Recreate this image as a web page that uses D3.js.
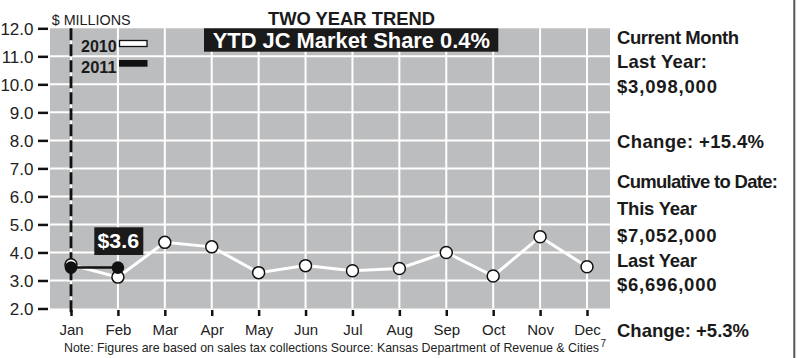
<!DOCTYPE html>
<html>
<head>
<meta charset="utf-8">
<script src="https://cdn.jsdelivr.net/npm/d3@7"></script>
<style>
  html, body { margin: 0; padding: 0; background: #fff; }
  svg { display: block; }
  text { font-family: "Liberation Sans", Arial, sans-serif; }
</style>
</head>
<body>
<div id="chart"></div>
<script>
const months = ["Jan","Feb","Mar","Apr","May","Jun","Jul","Aug","Sep","Oct","Nov","Dec"];
const sales2010 = [3.56, 3.12, 4.36, 4.2, 3.28, 3.53, 3.35, 3.43, 4.0, 3.16, 4.56, 3.49];
const sales2011 = [3.46, 3.46];
const yTicks = [2, 3, 4, 5, 6, 7, 8, 9, 10, 11, 12];
const seriesNames = ["2010", "2011"];
const chartTitle = "TWO YEAR TREND";
const bannerText = "YTD JC Market Share 0.4%";
const unitLabel = "$ MILLIONS";
const calloutText = "$3.6";
const noteText = "Note: Figures are based on sales tax collections  Source: Kansas Department of Revenue & Cities";
const noteMark = "7";
const sideLines = ["Current Month", "Last Year:", "$3,098,000", "Change: +15.4%",
  "Cumulative to Date:", "This Year", "$7,052,000", "Last Year", "$6,696,000", "Change: +5.3%"];

const W = 799, H = 358;
const plot = { left: 50, right: 610, top: 28.3, bottom: 308.5 };

const svg = d3.select("#chart").append("svg").attr("width", W).attr("height", H);
svg.append("rect").attr("width", W).attr("height", H).attr("fill", "#fff");

const x = d3.scalePoint().domain(months).range([71, 587]);
const y = d3.scaleLinear().domain([2, 12]).range([plot.bottom, plot.top]);

// plot background
svg.append("rect")
  .attr("x", plot.left).attr("y", plot.top)
  .attr("width", plot.right - plot.left).attr("height", plot.bottom - plot.top)
  .attr("fill", "#bcbdbf");

// gridlines
svg.append("g").selectAll("line").data(yTicks.filter(d => d > 2 && d < 12)).join("line")
  .attr("x1", plot.left).attr("x2", plot.right)
  .attr("y1", d => y(d)).attr("y2", d => y(d))
  .attr("stroke", "#fff").attr("stroke-width", 2);
svg.append("g").selectAll("line").data(months).join("line")
  .attr("x1", d => x(d)).attr("x2", d => x(d))
  .attr("y1", plot.top).attr("y2", plot.bottom)
  .attr("stroke", "#fff").attr("stroke-width", 2);

// y axis
const yAxis = svg.append("g").attr("transform", `translate(48,0)`)
  .call(d3.axisLeft(y).tickValues(yTicks).tickFormat(d3.format(".1f")).tickSize(10).tickPadding(4.5));
yAxis.select(".domain").remove();
yAxis.selectAll(".tick line").attr("stroke", "#111").attr("stroke-width", 2.5);
yAxis.selectAll(".tick text").attr("fill", "#222").style("font-size", "17px")
  .style("font-family", "'Liberation Sans', Arial, sans-serif").attr("dy", "0.36em");

// x axis
const xAxis = svg.append("g").attr("transform", `translate(0,310)`)
  .call(d3.axisBottom(x).tickSize(6).tickPadding(0));
xAxis.select(".domain").remove();
xAxis.selectAll(".tick line").attr("stroke", "#111").attr("stroke-width", 2.5);
xAxis.selectAll(".tick text").attr("fill", "#222").style("font-size", "15px")
  .style("font-family", "'Liberation Sans', Arial, sans-serif")
  .attr("y", 25).attr("dy", 0);

// dashed current line at Jan
svg.append("line")
  .attr("x1", x("Jan")).attr("x2", x("Jan"))
  .attr("y1", plot.top).attr("y2", 316)
  .attr("stroke", "#111").attr("stroke-width", 2.8)
  .attr("stroke-dasharray", "12,4");

// 2010 series
const line = d3.line().x((d, i) => x(months[i])).y(d => y(d));
svg.append("path").datum(sales2010).attr("d", line)
  .attr("fill", "none").attr("stroke", "#fff").attr("stroke-width", 3);
svg.append("g").selectAll("circle").data(sales2010).join("circle")
  .attr("cx", (d, i) => x(months[i])).attr("cy", d => y(d)).attr("r", 6)
  .attr("fill", "#fff").attr("stroke", "#111").attr("stroke-width", 1.5);

// 2011 series
svg.append("path").datum(sales2011).attr("d", line)
  .attr("fill", "none").attr("stroke", "#111").attr("stroke-width", 2.5);
svg.append("g").selectAll("circle").data(sales2011).join("circle")
  .attr("cx", (d, i) => x(months[i])).attr("cy", d => y(d)).attr("r", 6.3)
  .attr("fill", "#111");

// callout $3.6
svg.append("rect").attr("x", 94.3).attr("y", 227.3).attr("width", 49).attr("height", 27.7).attr("fill", "#1a1a1a");
svg.append("text").attr("x", 97.5).attr("y", 248.3)
  .attr("fill", "#fff").style("font-size", "21px").style("font-weight", "bold")
  .attr("textLength", 41.5).attr("lengthAdjust", "spacingAndGlyphs").text(calloutText);

// legend
const legY = [51.7, 73.3];
seriesNames.forEach((name, i) => {
  svg.append("text").attr("x", 81).attr("y", legY[i]).attr("fill", "#1a1a1a")
    .style("font-size", "16.5px").style("font-weight", "bold")
    .attr("textLength", 35.7).attr("lengthAdjust", "spacingAndGlyphs").text(name);
});
svg.append("rect").attr("x", 119.5).attr("y", 40.5).attr("width", 27.5).attr("height", 6)
  .attr("fill", "#fff").attr("stroke", "#111").attr("stroke-width", 1.3);
svg.append("rect").attr("x", 119).attr("y", 60).attr("width", 28.5).attr("height", 6.7)
  .attr("fill", "#111");

// unit label
svg.append("text").attr("x", 51.7).attr("y", 25).attr("fill", "#222")
  .style("font-size", "15px").attr("textLength", 79).attr("lengthAdjust", "spacingAndGlyphs")
  .text(unitLabel);

// title
svg.append("text").attr("x", 268).attr("y", 25).attr("fill", "#1a1a1a")
  .style("font-size", "18.3px").style("font-weight", "bold")
  .attr("textLength", 167).attr("lengthAdjust", "spacingAndGlyphs").text(chartTitle);

// banner
svg.append("rect").attr("x", 204).attr("y", 28.3).attr("width", 294.3).attr("height", 23.4).attr("fill", "#1a1a1a");
svg.append("text").attr("x", 212.7).attr("y", 48.3).attr("fill", "#fff")
  .style("font-size", "22px").style("font-weight", "bold")
  .attr("textLength", 277.3).attr("lengthAdjust", "spacingAndGlyphs").text(bannerText);

// note
svg.append("text").attr("x", 64).attr("y", 352).attr("fill", "#222")
  .style("font-size", "12.2px").attr("textLength", 535).attr("lengthAdjust", "spacingAndGlyphs")
  .text(noteText);
svg.append("text").attr("x", 600.5).attr("y", 347).attr("fill", "#222")
  .style("font-size", "10px").text(noteMark);

// side text
const sideY = [43.5, 67.5, 92.5, 147.5, 188.3, 215, 241.5, 266.7, 291, 337];
const sideW = [122, 90, 100, 147, 161, 80, 99.5, 80, 99.5, 132];
svg.append("g").selectAll("text").data(sideLines).join("text")
  .attr("x", 617).attr("y", (d, i) => sideY[i]).attr("fill", "#1a1a1a")
  .style("font-size", "18.5px").style("font-weight", "bold")
  .attr("textLength", (d, i) => sideW[i]).attr("lengthAdjust", "spacing")
  .text(d => d);

// right border
svg.append("line").attr("x1", 794.3).attr("x2", 794.3).attr("y1", 0).attr("y2", H)
  .attr("stroke", "#555").attr("stroke-width", 2);
</script>
</body>
</html>
